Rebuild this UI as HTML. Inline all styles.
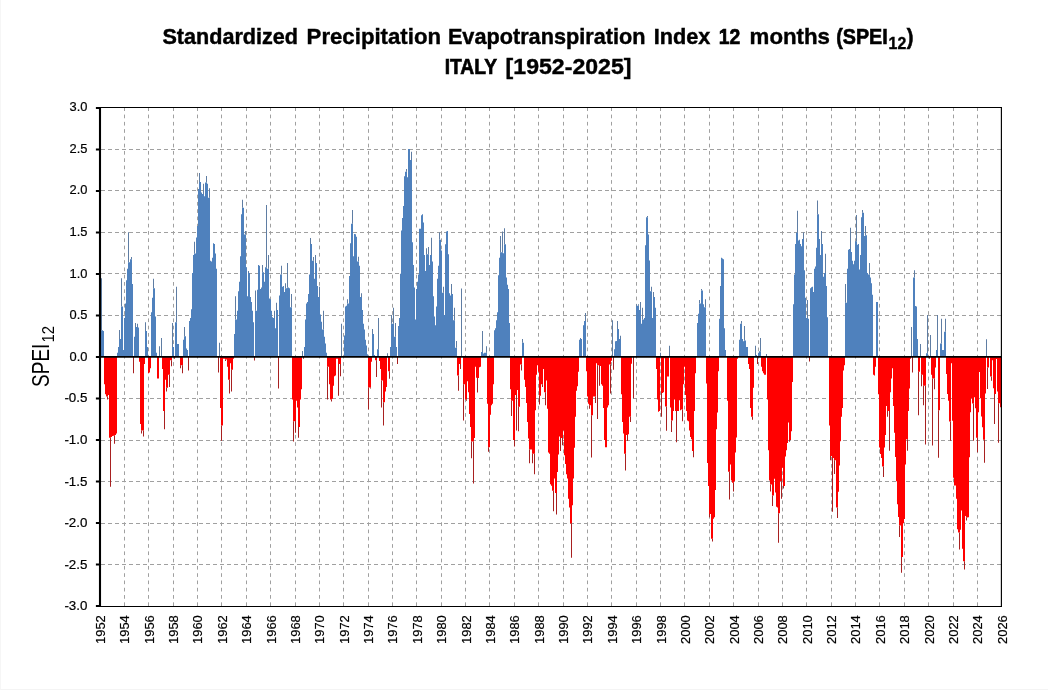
<!DOCTYPE html>
<html><head><meta charset="utf-8"><title>SPEI12 Italy</title>
<style>
html,body{margin:0;padding:0;background:#fff;}
body{width:1048px;height:690px;position:relative;overflow:hidden;font-family:"Liberation Sans",sans-serif;color:#000;}
.edge{position:absolute;left:0;top:0;width:1047px;height:689px;border-left:1px solid #f6f6f6;border-bottom:1px solid #f4f4f4}
svg text{font-family:"Liberation Sans",sans-serif}
</style></head><body>
<div class="edge"></div>
<svg width="1048" height="690" viewBox="0 0 1048 690" style="position:absolute;left:0;top:0;will-change:transform">
<path d="M124.5 107.5V606M148.5 107.5V606M173.5 107.5V606M197.5 107.5V606M221.5 107.5V606M246.5 107.5V606M270.5 107.5V606M295.5 107.5V606M319.5 107.5V606M343.5 107.5V606M368.5 107.5V606M392.5 107.5V606M416.5 107.5V606M441.5 107.5V606M465.5 107.5V606M489.5 107.5V606M514.5 107.5V606M538.5 107.5V606M563.5 107.5V606M587.5 107.5V606M611.5 107.5V606M636.5 107.5V606M660.5 107.5V606M684.5 107.5V606M709.5 107.5V606M733.5 107.5V606M758.5 107.5V606M782.5 107.5V606M806.5 107.5V606M831.5 107.5V606M855.5 107.5V606M879.5 107.5V606M904.5 107.5V606M928.5 107.5V606M953.5 107.5V606M977.5 107.5V606" stroke="#a0a0a0" stroke-width="1" stroke-dasharray="3.7 3.58" stroke-dashoffset="0.2" fill="none"/>
<path d="M101 149.5H1001M101 190.5H1001M101 232.5H1001M101 273.5H1001M101 315.5H1001M101 398.5H1001M101 440.5H1001M101 481.5H1001M101 523.5H1001M101 564.5H1001" stroke="#a0a0a0" stroke-width="1" stroke-dasharray="4 3" fill="none"/>
<path d="M101 356.9V330.34H102V356.9ZM102 356.9V330.34H103V356.9ZM103 356.9V331.07H104V356.9ZM117 356.9V352.82H118V356.9ZM118 356.9V347.02H119V356.9ZM119 356.9V339.04H120V356.9ZM120 356.9V339.04H121V356.9ZM121 356.9V306.41H122V356.9ZM122 356.9V306.41H123V356.9ZM123 356.9V349.92H124V356.9ZM124 356.9V318.01H125V356.9ZM125 356.9V303.51H126V356.9ZM126 356.9V280.3H127V356.9ZM127 356.9V268.7H128V356.9ZM128 356.9V262.17H129V356.9ZM129 356.9V262.17H130V356.9ZM130 356.9V259.27H131V356.9ZM131 356.9V259.27H132V356.9ZM132 356.9V283.93H133V356.9ZM134 356.9V336.87H135V356.9ZM135 356.9V327.01H136V356.9ZM136 356.9V327.01H137V356.9ZM137 356.9V327.01H138V356.9ZM138 356.9V327.44H139V356.9ZM145 356.9V331.07H146V356.9ZM146 356.9V331.07H147V356.9ZM147 356.9V347.02H148V356.9ZM151 356.9V312.21H152V356.9ZM152 356.9V297.71H153V356.9ZM153 356.9V288.28H154V356.9ZM154 356.9V288.28H155V356.9ZM155 356.9V316.56H156V356.9ZM156 356.9V352.82H157V356.9ZM172 356.9V347.02H173V356.9ZM173 356.9V347.02H174V356.9ZM175 356.9V322.36H176V356.9ZM176 356.9V322.36H177V356.9ZM177 356.9V344.12H178V356.9ZM178 356.9V344.12H179V356.9ZM183 356.9V339.77H184V356.9ZM184 356.9V336.14H185V356.9ZM185 356.9V336.14H186V356.9ZM186 356.9V348.47H187V356.9ZM187 356.9V349.92H188V356.9ZM189 356.9V320.91H190V356.9ZM190 356.9V318.01H191V356.9ZM191 356.9V309.31H192V356.9ZM192 356.9V273.05H193V356.9ZM193 356.9V254.92H194V356.9ZM194 356.9V253.47H195V356.9ZM195 356.9V253.47H196V356.9ZM196 356.9V237.52H197V356.9ZM197 356.9V225.91H198V356.9ZM198 356.9V188.93H199V356.9ZM199 356.9V181.88H200V356.9ZM200 356.9V181.88H201V356.9ZM201 356.9V192.56H202V356.9ZM202 356.9V194.01H203V356.9ZM203 356.9V194.01H204V356.9ZM204 356.9V196.18H205V356.9ZM205 356.9V182.4H206V356.9ZM206 356.9V182.4H207V356.9ZM207 356.9V183.85H208V356.9ZM208 356.9V197.63H209V356.9ZM209 356.9V197.63H210V356.9ZM210 356.9V260.72H211V356.9ZM211 356.9V261.45H212V356.9ZM212 356.9V257.82H213V356.9ZM213 356.9V243.32H214V356.9ZM214 356.9V244.04H215V356.9ZM215 356.9V253.47H216V356.9ZM216 356.9V268.7H217V356.9ZM234 356.9V333.97H235V356.9ZM235 356.9V319.46H236V356.9ZM236 356.9V319.46H237V356.9ZM237 356.9V310.76H238V356.9ZM238 356.9V291.18H239V356.9ZM239 356.9V281.75H240V356.9ZM240 356.9V256.37H241V356.9ZM241 356.9V214.31H242V356.9ZM242 356.9V207.78H243V356.9ZM243 356.9V207.78H244V356.9ZM244 356.9V234.62H245V356.9ZM245 356.9V234.62H246V356.9ZM246 356.9V267.25H247V356.9ZM247 356.9V296.26H248V356.9ZM248 356.9V273.05H249V356.9ZM249 356.9V273.05H250V356.9ZM250 356.9V296.98H251V356.9ZM251 356.9V302.06H252V356.9ZM252 356.9V310.76H253V356.9ZM253 356.9V322.36H254V356.9ZM255 356.9V310.76H256V356.9ZM256 356.9V310.76H257V356.9ZM257 356.9V289.73H258V356.9ZM258 356.9V265.08H259V356.9ZM259 356.9V265.8H260V356.9ZM260 356.9V289.01H261V356.9ZM261 356.9V287.56H262V356.9ZM262 356.9V272.33H263V356.9ZM263 356.9V272.33H264V356.9ZM264 356.9V281.75H265V356.9ZM265 356.9V267.25H266V356.9ZM266 356.9V267.25H267V356.9ZM267 356.9V268.7H268V356.9ZM268 356.9V268.7H269V356.9ZM269 356.9V298.43H270V356.9ZM270 356.9V299.16H271V356.9ZM271 356.9V310.76H272V356.9ZM272 356.9V317.29H273V356.9ZM273 356.9V318.01H274V356.9ZM274 356.9V318.01H275V356.9ZM275 356.9V328.17H276V356.9ZM276 356.9V310.04H277V356.9ZM277 356.9V310.04H278V356.9ZM279 356.9V295.53H280V356.9ZM280 356.9V274.5H281V356.9ZM281 356.9V274.5H282V356.9ZM282 356.9V286.83H283V356.9ZM283 356.9V286.11H284V356.9ZM284 356.9V291.91H285V356.9ZM285 356.9V288.28H286V356.9ZM286 356.9V288.28H287V356.9ZM287 356.9V287.56H288V356.9ZM288 356.9V287.56H289V356.9ZM289 356.9V288.28H290V356.9ZM290 356.9V307.14H291V356.9ZM291 356.9V307.14H292V356.9ZM304 356.9V347.02H305V356.9ZM305 356.9V319.46H306V356.9ZM306 356.9V303.51H307V356.9ZM307 356.9V302.06H308V356.9ZM308 356.9V294.08H309V356.9ZM309 356.9V274.5H310V356.9ZM310 356.9V244.04H311V356.9ZM311 356.9V244.04H312V356.9ZM312 356.9V260.72H313V356.9ZM313 356.9V260.72H314V356.9ZM314 356.9V278.85H315V356.9ZM315 356.9V262.9H316V356.9ZM316 356.9V262.9H317V356.9ZM317 356.9V286.11H318V356.9ZM318 356.9V296.98H319V356.9ZM319 356.9V296.98H320V356.9ZM320 356.9V314.39H321V356.9ZM321 356.9V321.64H322V356.9ZM322 356.9V329.62H323V356.9ZM323 356.9V329.62H324V356.9ZM324 356.9V336.87H325V356.9ZM325 356.9V343.39H326V356.9ZM326 356.9V352.82H327V356.9ZM344 356.9V335.42H345V356.9ZM345 356.9V306.41H346V356.9ZM346 356.9V305.69H347V356.9ZM347 356.9V303.51H348V356.9ZM348 356.9V303.51H349V356.9ZM349 356.9V275.95H350V356.9ZM350 356.9V243.32H351V356.9ZM351 356.9V223.74H352V356.9ZM352 356.9V223.74H353V356.9ZM353 356.9V256.37H354V356.9ZM354 356.9V233.89H355V356.9ZM355 356.9V234.33H356V356.9ZM356 356.9V236.79H357V356.9ZM357 356.9V261.45H358V356.9ZM358 356.9V261.45H359V356.9ZM359 356.9V265.8H360V356.9ZM360 356.9V296.98H361V356.9ZM361 356.9V296.98H362V356.9ZM362 356.9V310.04H363V356.9ZM363 356.9V323.81H364V356.9ZM364 356.9V329.62H365V356.9ZM365 356.9V339.77H366V356.9ZM366 356.9V345.57H367V356.9ZM367 356.9V354.27H368V356.9ZM372 356.9V333.97H373V356.9ZM373 356.9V333.97H374V356.9ZM374 356.9V355H375V356.9ZM377 356.9V349.2H378V356.9ZM378 356.9V349.2H379V356.9ZM390 356.9V347.02H391V356.9ZM391 356.9V323.81H392V356.9ZM392 356.9V323.81H393V356.9ZM393 356.9V323.81H394V356.9ZM394 356.9V336.87H395V356.9ZM395 356.9V336.87H396V356.9ZM396 356.9V347.02H397V356.9ZM398 356.9V325.99H399V356.9ZM399 356.9V318.01H400V356.9ZM400 356.9V273.78H401V356.9ZM401 356.9V230.58H402V356.9ZM402 356.9V217.9H403V356.9ZM403 356.9V206.12H404V356.9ZM404 356.9V176.23H405V356.9ZM405 356.9V171.7H406V356.9ZM406 356.9V171.7H407V356.9ZM407 356.9V177.14H408V356.9ZM408 356.9V149.06H409V356.9ZM409 356.9V149.06H410V356.9ZM410 356.9V159.93H411V356.9ZM411 356.9V159.93H412V356.9ZM412 356.9V242.36H413V356.9ZM413 356.9V264.96H414V356.9ZM414 356.9V287.56H415V356.9ZM415 356.9V319.46H416V356.9ZM416 356.9V289.01H417V356.9ZM417 356.9V281.75H418V356.9ZM418 356.9V274.5H419V356.9ZM419 356.9V228.77H420V356.9ZM420 356.9V228.77H421V356.9ZM421 356.9V215.18H422V356.9ZM422 356.9V214.28H423V356.9ZM423 356.9V222.43H424V356.9ZM424 356.9V255.04H425V356.9ZM425 356.9V270.88H426V356.9ZM426 356.9V254.13H427V356.9ZM427 356.9V254.13H428V356.9ZM428 356.9V254.13H429V356.9ZM429 356.9V265H430V356.9ZM430 356.9V255.04H431V356.9ZM431 356.9V255.04H432V356.9ZM432 356.9V261.38H433V356.9ZM433 356.9V296.26H434V356.9ZM434 356.9V316.56H435V356.9ZM435 356.9V325.26H436V356.9ZM436 356.9V306.41H437V356.9ZM437 356.9V278.85H438V356.9ZM438 356.9V265.8H439V356.9ZM439 356.9V239.64H440V356.9ZM440 356.9V239.64H441V356.9ZM441 356.9V250.51H442V356.9ZM442 356.9V292.63H443V356.9ZM443 356.9V292.63H444V356.9ZM444 356.9V315.11H445V356.9ZM445 356.9V244.17H446V356.9ZM446 356.9V231.49H447V356.9ZM447 356.9V231.12H448V356.9ZM448 356.9V254.13H449V356.9ZM449 356.9V293.36H450V356.9ZM450 356.9V295.53H451V356.9ZM451 356.9V294.08H452V356.9ZM452 356.9V294.08H453V356.9ZM453 356.9V320.19H454V356.9ZM454 356.9V320.19H455V356.9ZM455 356.9V347.74H456V356.9ZM456 356.9V347.74H457V356.9ZM481 356.9V352.1H482V356.9ZM482 356.9V352.1H483V356.9ZM483 356.9V353.55H484V356.9ZM484 356.9V352.82H485V356.9ZM485 356.9V352.82H486V356.9ZM486 356.9V352.82H487V356.9ZM494 356.9V330.34H495V356.9ZM495 356.9V328.17H496V356.9ZM496 356.9V320.19H497V356.9ZM497 356.9V312.21H498V356.9ZM498 356.9V275.23H499V356.9ZM499 356.9V257.75H500V356.9ZM500 356.9V252.32H501V356.9ZM501 356.9V252.32H502V356.9ZM502 356.9V252.32H503V356.9ZM503 356.9V253.22H504V356.9ZM504 356.9V244.17H505V356.9ZM505 356.9V244.17H506V356.9ZM506 356.9V277.4H507V356.9ZM507 356.9V284.66H508V356.9ZM508 356.9V289.01H509V356.9ZM509 356.9V323.09H510V356.9ZM522 356.9V342.67H523V356.9ZM523 356.9V342.67H524V356.9ZM579 356.9V339.77H580V356.9ZM580 356.9V339.04H581V356.9ZM581 356.9V339.04H582V356.9ZM583 356.9V325.26H584V356.9ZM584 356.9V320.91H585V356.9ZM585 356.9V320.91H586V356.9ZM614 356.9V349.2H615V356.9ZM615 356.9V341.22H616V356.9ZM616 356.9V340.93H617V356.9ZM617 356.9V328.89H618V356.9ZM618 356.9V328.89H619V356.9ZM619 356.9V339.04H620V356.9ZM620 356.9V339.04H621V356.9ZM636 356.9V305.69H637V356.9ZM637 356.9V305.69H638V356.9ZM638 356.9V305.69H639V356.9ZM639 356.9V310.04H640V356.9ZM640 356.9V310.04H641V356.9ZM641 356.9V323.81H642V356.9ZM642 356.9V319.46H643V356.9ZM643 356.9V319.46H644V356.9ZM644 356.9V318.01H645V356.9ZM645 356.9V245.15H646V356.9ZM646 356.9V217.25H647V356.9ZM647 356.9V217.25H648V356.9ZM648 356.9V234.5H649V356.9ZM649 356.9V260.38H650V356.9ZM650 356.9V291.18H651V356.9ZM651 356.9V291.18H652V356.9ZM652 356.9V318.01H653V356.9ZM653 356.9V296.98H654V356.9ZM654 356.9V296.98H655V356.9ZM655 356.9V307.86H656V356.9ZM697 356.9V323.09H698V356.9ZM698 356.9V313.66H699V356.9ZM699 356.9V303.51H700V356.9ZM700 356.9V303.51H701V356.9ZM701 356.9V290.46H702V356.9ZM702 356.9V290.46H703V356.9ZM703 356.9V304.23H704V356.9ZM704 356.9V307.14H705V356.9ZM705 356.9V307.14H706V356.9ZM719 356.9V318.74H720V356.9ZM720 356.9V286.11H721V356.9ZM721 356.9V257.82H722V356.9ZM722 356.9V258.55H723V356.9ZM723 356.9V259.27H724V356.9ZM724 356.9V328.17H725V356.9ZM725 356.9V349.92H726V356.9ZM739 356.9V339.77H740V356.9ZM740 356.9V323.81H741V356.9ZM741 356.9V323.81H742V356.9ZM742 356.9V339.04H743V356.9ZM743 356.9V341.22H744V356.9ZM744 356.9V340.49H745V356.9ZM745 356.9V340.49H746V356.9ZM746 356.9V347.02H747V356.9ZM747 356.9V347.02H748V356.9ZM755 356.9V355H756V356.9ZM756 356.9V355H757V356.9ZM758 356.9V352.82H759V356.9ZM759 356.9V351.37H760V356.9ZM760 356.9V351.37H761V356.9ZM793 356.9V304.23H794V356.9ZM794 356.9V274.5H795V356.9ZM795 356.9V244.04H796V356.9ZM796 356.9V232.44H797V356.9ZM797 356.9V232.44H798V356.9ZM798 356.9V240.42H799V356.9ZM799 356.9V239.69H800V356.9ZM800 356.9V244.04H801V356.9ZM801 356.9V246.22H802V356.9ZM802 356.9V238.97H803V356.9ZM803 356.9V238.97H804V356.9ZM804 356.9V270.15H805V356.9ZM805 356.9V297.71H806V356.9ZM806 356.9V318.01H807V356.9ZM807 356.9V318.01H808V356.9ZM808 356.9V318.74H809V356.9ZM810 356.9V288.28H811V356.9ZM811 356.9V287.27H812V356.9ZM812 356.9V286.83H813V356.9ZM813 356.9V291.91H814V356.9ZM814 356.9V268.7H815V356.9ZM815 356.9V266.53H816V356.9ZM816 356.9V247.67H817V356.9ZM817 356.9V214.31H818V356.9ZM818 356.9V214.31H819V356.9ZM819 356.9V238.97H820V356.9ZM820 356.9V254.92H821V356.9ZM821 356.9V244.04H822V356.9ZM822 356.9V244.04H823V356.9ZM823 356.9V276.68H824V356.9ZM824 356.9V273.05H825V356.9ZM825 356.9V273.05H826V356.9ZM826 356.9V286.11H827V356.9ZM827 356.9V317.29H828V356.9ZM845 356.9V302.78H846V356.9ZM846 356.9V302.78H847V356.9ZM847 356.9V268.7H848V356.9ZM848 356.9V249.84H849V356.9ZM849 356.9V249.12H850V356.9ZM850 356.9V249.12H851V356.9ZM851 356.9V252.02H852V356.9ZM852 356.9V260.72H853V356.9ZM853 356.9V264.35H854V356.9ZM854 356.9V260.72H855V356.9ZM855 356.9V241.14H856V356.9ZM856 356.9V241.14H857V356.9ZM857 356.9V244.77H858V356.9ZM858 356.9V244.04H859V356.9ZM859 356.9V269.43H860V356.9ZM860 356.9V254.92H861V356.9ZM861 356.9V217.21H862V356.9ZM862 356.9V212.86H863V356.9ZM863 356.9V212.86H864V356.9ZM864 356.9V236.07H865V356.9ZM865 356.9V235.34H866V356.9ZM866 356.9V235.34H867V356.9ZM867 356.9V273.05H868V356.9ZM868 356.9V274.5H869V356.9ZM869 356.9V274.5H870V356.9ZM870 356.9V277.4H871V356.9ZM871 356.9V283.21H872V356.9ZM872 356.9V294.81H873V356.9ZM876 356.9V302.06H877V356.9ZM877 356.9V302.06H878V356.9ZM913 356.9V277.4H914V356.9ZM914 356.9V277.4H915V356.9ZM915 356.9V306.12H916V356.9ZM916 356.9V306.41H917V356.9ZM917 356.9V339.04H918V356.9ZM926 356.9V353.27H927V356.9ZM927 356.9V353.27H928V356.9ZM936 356.9V349.92H937V356.9ZM937 356.9V349.92H938V356.9ZM940 356.9V343.39H941V356.9ZM941 356.9V343.39H942V356.9ZM942 356.9V349.92H943V356.9ZM943 356.9V349.92H944V356.9ZM944 356.9V331.79H945V356.9ZM945 356.9V331.79H946V356.9Z" fill="#4f81bd"/>
<path d="M101 330.34V278.13H102V330.34ZM119 339.04V330.05H120V339.04ZM121 306.41V278.13H122V306.41ZM128 262.17V232.15H129V262.17ZM131 259.27V257.1H132V259.27ZM135 327.01V323.09H136V327.01ZM137 327.01V323.81H138V327.01ZM145 331.07V322.36H146V331.07ZM153 288.28V278.85H154V288.28ZM159 356.9V346.29H160V356.9ZM161 356.9V338.03H162V356.9ZM172 347.02V323.09H173V347.02ZM176 322.36V286.83H177V322.36ZM184 336.14V327.01H185V336.14ZM194 253.47V241.87H195V253.47ZM199 181.88V172.98H200V181.88ZM203 194.01V183.85H204V194.01ZM206 182.4V175.88H207V182.4ZM209 197.63V188.21H210V197.63ZM219 356.9V342.67H220V356.9ZM235 319.46V296.26H236V319.46ZM242 207.78V199.81H243V207.78ZM245 234.62V230.99H246V234.62ZM248 273.05V270.88H249V273.05ZM255 310.76V290.46H256V310.76ZM262 272.33V265.08H263V272.33ZM266 267.25V204.88H267V267.25ZM268 268.7V254.92H269V268.7ZM274 318.01V310.76H275V318.01ZM276 310.04V302.78H277V310.04ZM281 274.5V265.8H282V274.5ZM285 288.28V283.21H286V288.28ZM287 287.56V262.9H288V287.56ZM291 307.14V294.08H292V307.14ZM302 356.9V351.08H303V356.9ZM310 244.04V237.95H311V244.04ZM313 260.72V257.1H314V260.72ZM315 262.9V254.92H316V262.9ZM319 296.98V286.83H320V296.98ZM323 329.62V310.76H324V329.62ZM341 356.9V323.81H342V356.9ZM347 303.51V299.16H348V303.51ZM352 223.74V209.96H353V223.74ZM358 261.45V256.66H359V261.45ZM361 296.98V293.36H362V296.98ZM372 333.97V328.89H373V333.97ZM378 349.2V318.01H379V349.2ZM387 356.9V353.27H388V356.9ZM391 323.81V315.11H392V323.81ZM393 323.81V307.86H394V323.81ZM395 336.87V323.09H396V336.87ZM406 171.7V168.99H407V171.7ZM411 159.93V151.78H412V159.93ZM426 254.13V248.15H427V254.13ZM428 254.13V246.88H429V254.13ZM431 255.04V237.83H432V255.04ZM439 239.64V232.39H440V239.64ZM443 292.63V286.83H444V292.63ZM451 294.08V283.93H452V294.08ZM454 320.19V307.86H455V320.19ZM456 347.74V340.93H457V347.74ZM461 356.9V288.38H462V356.9ZM482 352.1V331.07H483V352.1ZM486 352.82V346.29H487V352.82ZM500 252.32V236.01H501V252.32ZM502 252.32V231.49H503V252.32ZM504 244.17V228.22H505V244.17ZM522 342.67V339.04H523V342.67ZM580 339.04V338.03H581V339.04ZM585 320.91V312.94H586V320.91ZM612 356.9V320.19H613V356.9ZM617 328.89V320.91H618V328.89ZM620 339.04V335.71H621V339.04ZM636 305.69V304.23H637V305.69ZM638 305.69V304.23H639V305.69ZM640 310.04V302.06H641V310.04ZM642 319.46V307.86H643V319.46ZM647 217.25V216.03H648V217.25ZM651 291.18V286.83H652V291.18ZM653 296.98V291.91H654V296.98ZM660 356.9V352.86H661V356.9ZM669 356.9V345.86H670V356.9ZM699 303.51V299.88H700V303.51ZM701 290.46V289.01H702V290.46ZM705 307.14V299.16H706V307.14ZM741 323.81V320.91H742V323.81ZM744 340.49V325.99H745V340.49ZM755 355V345.86H756V355ZM760 351.37V338.03H761V351.37ZM766 356.9V353.98H767V356.9ZM797 232.44V210.69H798V232.44ZM803 238.97V232.44H804V238.97ZM807 318.01V299.88H808V318.01ZM817 214.31V200.53H818V214.31ZM821 244.04V230.99H822V244.04ZM825 273.05V253.76H826V273.05ZM845 302.78V283.93H846V302.78ZM850 249.12V227.8H851V249.12ZM856 241.14V215.04H857V241.14ZM862 212.86V209.96H863V212.86ZM865 235.34V225.91H866V235.34ZM869 274.5V262.9H870V274.5ZM911 356.9V327.01H912V356.9ZM914 277.4V270.15H915V277.4ZM920 356.9V344.12H921V356.9ZM927 353.27V315.11H928V353.27ZM930 356.9V334.98H931V356.9ZM937 349.92V315.11H938V349.92ZM941 343.39V318.74H942V343.39ZM945 331.79V318.74H946V331.79ZM986 356.9V339.13H987V356.9Z" fill="#5f7da3"/>
<path d="M104 356.9V384.18H105V356.9ZM105 356.9V394.33H106V356.9ZM106 356.9V396.51H107V356.9ZM107 356.9V396.51H108V356.9ZM108 356.9V395.06H109V356.9ZM109 356.9V437.84H110V356.9ZM110 356.9V437.84H111V356.9ZM111 356.9V437.12H112V356.9ZM112 356.9V435.96H113V356.9ZM113 356.9V435.67H114V356.9ZM114 356.9V435.67H115V356.9ZM115 356.9V434.94H116V356.9ZM116 356.9V433.49H117V356.9ZM139 356.9V361.7H140V356.9ZM140 356.9V424.07H141V356.9ZM141 356.9V430.59H142V356.9ZM142 356.9V430.59H143V356.9ZM143 356.9V430.59H144V356.9ZM144 356.9V363.88H145V356.9ZM148 356.9V373.3H149V356.9ZM149 356.9V372.58H150V356.9ZM150 356.9V368.23H151V356.9ZM157 356.9V378.38H158V356.9ZM158 356.9V378.38H159V356.9ZM162 356.9V368.95H163V356.9ZM163 356.9V411.01H164V356.9ZM164 356.9V411.01H165V356.9ZM165 356.9V379.83H166V356.9ZM166 356.9V387.81H167V356.9ZM167 356.9V387.81H168V356.9ZM168 356.9V374.75H169V356.9ZM169 356.9V374.75H170V356.9ZM170 356.9V360.25H171V356.9ZM171 356.9V360.25H172V356.9ZM180 356.9V365.33H181V356.9ZM181 356.9V365.33H182V356.9ZM182 356.9V365.33H183V356.9ZM220 356.9V408.11H221V356.9ZM221 356.9V425.52H222V356.9ZM222 356.9V425.52H223V356.9ZM223 356.9V358.8H224V356.9ZM224 356.9V358.8H225V356.9ZM225 356.9V359.53H226V356.9ZM226 356.9V359.53H227V356.9ZM227 356.9V366.78H228V356.9ZM228 356.9V379.83H229V356.9ZM229 356.9V379.83H230V356.9ZM230 356.9V363.15H231V356.9ZM231 356.9V369.68H232V356.9ZM232 356.9V369.68H233V356.9ZM233 356.9V358.8H234V356.9ZM292 356.9V399.41H293V356.9ZM293 356.9V421.17H294V356.9ZM294 356.9V421.17H295V356.9ZM295 356.9V421.17H296V356.9ZM296 356.9V400.86H297V356.9ZM297 356.9V407.39H298V356.9ZM298 356.9V426.97H299V356.9ZM299 356.9V426.97H300V356.9ZM300 356.9V399.41H301V356.9ZM301 356.9V389.26H302V356.9ZM327 356.9V366.78H328V356.9ZM328 356.9V366.78H329V356.9ZM329 356.9V384.18H330V356.9ZM330 356.9V399.41H331V356.9ZM331 356.9V399.41H332V356.9ZM332 356.9V398.69H333V356.9ZM333 356.9V385.63H334V356.9ZM334 356.9V376.21H335V356.9ZM335 356.9V375.48H336V356.9ZM336 356.9V358.8H337V356.9ZM337 356.9V358.8H338V356.9ZM338 356.9V363.88H339V356.9ZM339 356.9V363.88H340V356.9ZM340 356.9V363.88H341V356.9ZM368 356.9V387.52H369V356.9ZM369 356.9V387.52H370V356.9ZM370 356.9V387.52H371V356.9ZM371 356.9V361.7H372V356.9ZM375 356.9V360.25H376V356.9ZM376 356.9V360.25H377V356.9ZM379 356.9V360.98H380V356.9ZM380 356.9V368.95H381V356.9ZM381 356.9V380.56H382V356.9ZM382 356.9V380.56H383V356.9ZM383 356.9V402.31H384V356.9ZM384 356.9V402.31H385V356.9ZM385 356.9V391.43H386V356.9ZM386 356.9V387.08H387V356.9ZM388 356.9V371.13H389V356.9ZM389 356.9V371.13H390V356.9ZM457 356.9V375.48H458V356.9ZM458 356.9V375.48H459V356.9ZM459 356.9V363.88H460V356.9ZM460 356.9V363.88H461V356.9ZM463 356.9V384.18H464V356.9ZM464 356.9V384.18H465V356.9ZM465 356.9V399.41H466V356.9ZM466 356.9V399.41H467V356.9ZM467 356.9V381.28H468V356.9ZM468 356.9V392.16H469V356.9ZM469 356.9V413.91H470V356.9ZM470 356.9V426.97H471V356.9ZM471 356.9V441.53H472V356.9ZM472 356.9V441.53H473V356.9ZM473 356.9V441.53H474V356.9ZM474 356.9V437.9H475V356.9ZM475 356.9V366.78H476V356.9ZM476 356.9V377.66H477V356.9ZM477 356.9V377.95H478V356.9ZM478 356.9V377.95H479V356.9ZM479 356.9V367.21H480V356.9ZM480 356.9V366.78H481V356.9ZM487 356.9V403.76H488V356.9ZM488 356.9V447.33H489V356.9ZM489 356.9V447.33H490V356.9ZM490 356.9V414.64H491V356.9ZM491 356.9V405.21H492V356.9ZM492 356.9V403.76H493V356.9ZM493 356.9V384.18H494V356.9ZM510 356.9V389.26H511V356.9ZM511 356.9V400.86H512V356.9ZM512 356.9V400.86H513V356.9ZM513 356.9V440.02H514V356.9ZM514 356.9V440.02H515V356.9ZM515 356.9V395.06H516V356.9ZM516 356.9V395.06H517V356.9ZM517 356.9V389.98H518V356.9ZM518 356.9V406.66H519V356.9ZM519 356.9V406.66H520V356.9ZM520 356.9V364.6H521V356.9ZM521 356.9V364.6H522V356.9ZM524 356.9V379.83H525V356.9ZM525 356.9V387.08H526V356.9ZM526 356.9V403.04H527V356.9ZM527 356.9V421.89H528V356.9ZM528 356.9V438.57H529V356.9ZM529 356.9V449.5H530V356.9ZM530 356.9V449.5H531V356.9ZM531 356.9V449.5H532V356.9ZM532 356.9V453.85H533V356.9ZM533 356.9V453.85H534V356.9ZM534 356.9V453.85H535V356.9ZM535 356.9V410.29H536V356.9ZM536 356.9V374.75H537V356.9ZM537 356.9V365.33H538V356.9ZM538 356.9V371.85H539V356.9ZM539 356.9V395.78H540V356.9ZM540 356.9V395.78H541V356.9ZM541 356.9V384.18H542V356.9ZM542 356.9V384.18H543V356.9ZM543 356.9V368.95H544V356.9ZM544 356.9V392.16H545V356.9ZM545 356.9V392.16H546V356.9ZM546 356.9V380.56H547V356.9ZM547 356.9V408.84H548V356.9ZM548 356.9V452.4H549V356.9ZM549 356.9V453.85H550V356.9ZM550 356.9V484.31H551V356.9ZM551 356.9V485.76H552V356.9ZM552 356.9V490.84H553V356.9ZM553 356.9V490.84H554V356.9ZM554 356.9V478.51H555V356.9ZM555 356.9V493.01H556V356.9ZM556 356.9V493.01H557V356.9ZM557 356.9V471.98H558V356.9ZM558 356.9V454.58H559V356.9ZM559 356.9V436.45H560V356.9ZM560 356.9V437.9H561V356.9ZM561 356.9V437.9H562V356.9ZM562 356.9V437.9H563V356.9ZM563 356.9V430.59H564V356.9ZM564 356.9V455.3H565V356.9ZM565 356.9V464.01H566V356.9ZM566 356.9V474.16H567V356.9ZM567 356.9V478.51H568V356.9ZM568 356.9V498.81H569V356.9ZM569 356.9V507.52H570V356.9ZM570 356.9V523.47H571V356.9ZM571 356.9V523.47H572V356.9ZM572 356.9V505.34H573V356.9ZM573 356.9V478.51H574V356.9ZM574 356.9V447.66H575V356.9ZM575 356.9V416.81H576V356.9ZM576 356.9V390.71H577V356.9ZM577 356.9V386.36H578V356.9ZM578 356.9V371.85H579V356.9ZM586 356.9V371.13H587V356.9ZM587 356.9V396.51H588V356.9ZM588 356.9V403.76H589V356.9ZM589 356.9V405.21H590V356.9ZM590 356.9V405.21H591V356.9ZM591 356.9V415.36H592V356.9ZM592 356.9V415.36H593V356.9ZM593 356.9V396.51H594V356.9ZM594 356.9V396.51H595V356.9ZM595 356.9V396.51H596V356.9ZM596 356.9V363.15H597V356.9ZM597 356.9V365.33H598V356.9ZM598 356.9V365.33H599V356.9ZM599 356.9V366.05H600V356.9ZM600 356.9V366.05H601V356.9ZM601 356.9V384.18H602V356.9ZM602 356.9V385.63H603V356.9ZM603 356.9V408.11H604V356.9ZM604 356.9V440.02H605V356.9ZM605 356.9V447.27H606V356.9ZM606 356.9V447.27H607V356.9ZM607 356.9V407.39H608V356.9ZM608 356.9V405.21H609V356.9ZM609 356.9V364.6H610V356.9ZM610 356.9V364.6H611V356.9ZM611 356.9V360.76H612V356.9ZM621 356.9V394.33H622V356.9ZM622 356.9V421.89H623V356.9ZM623 356.9V433.49H624V356.9ZM624 356.9V453.85H625V356.9ZM625 356.9V453.85H626V356.9ZM626 356.9V434.94H627V356.9ZM627 356.9V434.94H628V356.9ZM628 356.9V434.22H629V356.9ZM629 356.9V416.81H630V356.9ZM630 356.9V416.81H631V356.9ZM631 356.9V363.67H632V356.9ZM656 356.9V368.95H657V356.9ZM657 356.9V399.41H658V356.9ZM658 356.9V411.74H659V356.9ZM659 356.9V411.01H660V356.9ZM661 356.9V392.88H662V356.9ZM662 356.9V392.88H663V356.9ZM663 356.9V392.16H664V356.9ZM664 356.9V358.26H665V356.9ZM665 356.9V406.52H666V356.9ZM666 356.9V406.52H667V356.9ZM667 356.9V376.57H668V356.9ZM668 356.9V376.57H669V356.9ZM670 356.9V407.39H671V356.9ZM671 356.9V420.44H672V356.9ZM672 356.9V420.44H673V356.9ZM673 356.9V411.01H674V356.9ZM674 356.9V399.41H675V356.9ZM675 356.9V411.01H676V356.9ZM676 356.9V411.01H677V356.9ZM677 356.9V411.01H678V356.9ZM678 356.9V411.01H679V356.9ZM679 356.9V400.14H680V356.9ZM680 356.9V410.29H681V356.9ZM681 356.9V409.56H682V356.9ZM682 356.9V409.56H683V356.9ZM683 356.9V384.18H684V356.9ZM684 356.9V366.78H685V356.9ZM685 356.9V395.06H686V356.9ZM686 356.9V411.01H687V356.9ZM687 356.9V420.44H688V356.9ZM688 356.9V421.17H689V356.9ZM689 356.9V430.59H690V356.9ZM690 356.9V437.12H691V356.9ZM691 356.9V439.29H692V356.9ZM692 356.9V450.95H693V356.9ZM693 356.9V450.95H694V356.9ZM694 356.9V411.01H695V356.9ZM695 356.9V373.3H696V356.9ZM706 356.9V383.46H707V356.9ZM707 356.9V462.91H708V356.9ZM708 356.9V486.04H709V356.9ZM709 356.9V513.95H710V356.9ZM710 356.9V513.95H711V356.9ZM711 356.9V538.67H712V356.9ZM712 356.9V538.67H713V356.9ZM713 356.9V518.73H714V356.9ZM714 356.9V517.14H715V356.9ZM715 356.9V490.02H716V356.9ZM716 356.9V429.14H717V356.9ZM717 356.9V412.46H718V356.9ZM718 356.9V371.13H719V356.9ZM727 356.9V400.86H728V356.9ZM728 356.9V471.68H729V356.9ZM729 356.9V471.68H730V356.9ZM730 356.9V464.51H731V356.9ZM731 356.9V480.45H732V356.9ZM732 356.9V482.85H733V356.9ZM733 356.9V482.85H734V356.9ZM734 356.9V481.25H735V356.9ZM735 356.9V452.54H736V356.9ZM736 356.9V437.39H737V356.9ZM737 356.9V358.8H738V356.9ZM748 356.9V363.88H749V356.9ZM749 356.9V368.95H750V356.9ZM750 356.9V408.11H751V356.9ZM751 356.9V416.81H752V356.9ZM752 356.9V416.81H753V356.9ZM753 356.9V387.81H754V356.9ZM761 356.9V366.78H762V356.9ZM762 356.9V371.13H763V356.9ZM763 356.9V373.3H764V356.9ZM764 356.9V374.75H765V356.9ZM765 356.9V374.75H766V356.9ZM767 356.9V399.41H768V356.9ZM768 356.9V450.15H769V356.9ZM769 356.9V480.45H770V356.9ZM770 356.9V484.44H771V356.9ZM771 356.9V484.44H772V356.9ZM772 356.9V495.61H773V356.9ZM773 356.9V495.61H774V356.9ZM774 356.9V478.86H775V356.9ZM775 356.9V492.42H776V356.9ZM776 356.9V506.77H777V356.9ZM777 356.9V507.57H778V356.9ZM778 356.9V513.15H779V356.9ZM779 356.9V513.15H780V356.9ZM780 356.9V481.25H781V356.9ZM781 356.9V481.25H782V356.9ZM782 356.9V467.7H783V356.9ZM783 356.9V486.04H784V356.9ZM784 356.9V486.04H785V356.9ZM785 356.9V456.53H786V356.9ZM786 356.9V450.15H787V356.9ZM787 356.9V442.97H788V356.9ZM788 356.9V422.62H789V356.9ZM789 356.9V440.02H790V356.9ZM790 356.9V440.02H791V356.9ZM791 356.9V431.32H792V356.9ZM792 356.9V382.01H793V356.9ZM829 356.9V425.52H830V356.9ZM830 356.9V456.02H831V356.9ZM831 356.9V456.02H832V356.9ZM832 356.9V458.12H833V356.9ZM833 356.9V458.12H834V356.9ZM834 356.9V460.23H835V356.9ZM835 356.9V460.23H836V356.9ZM836 356.9V507.52H837V356.9ZM837 356.9V507.52H838V356.9ZM838 356.9V491.76H839V356.9ZM839 356.9V465.48H840V356.9ZM840 356.9V441.15H841V356.9ZM841 356.9V416.81H842V356.9ZM842 356.9V408.11H843V356.9ZM843 356.9V370.4H844V356.9ZM844 356.9V365.33H845V356.9ZM873 356.9V374.75H874V356.9ZM874 356.9V375.48H875V356.9ZM875 356.9V366.78H876V356.9ZM878 356.9V394.33H879V356.9ZM879 356.9V447.61H880V356.9ZM880 356.9V453.92H881V356.9ZM881 356.9V458.12H882V356.9ZM882 356.9V466.53H883V356.9ZM883 356.9V466.53H884V356.9ZM884 356.9V447.61H885V356.9ZM885 356.9V434.94H886V356.9ZM886 356.9V405.94H887V356.9ZM887 356.9V411.01H888V356.9ZM888 356.9V411.01H889V356.9ZM889 356.9V411.01H890V356.9ZM890 356.9V392.16H891V356.9ZM891 356.9V378.38H892V356.9ZM892 356.9V368.23H893V356.9ZM893 356.9V405.94H894V356.9ZM894 356.9V432.77H895V356.9ZM895 356.9V457.01H896V356.9ZM896 356.9V481.25H897V356.9ZM897 356.9V504.37H898V356.9ZM898 356.9V516.98H899V356.9ZM899 356.9V525.39H900V356.9ZM900 356.9V525.39H901V356.9ZM901 356.9V556.93H902V356.9ZM902 356.9V556.93H903V356.9ZM903 356.9V523.29H904V356.9ZM904 356.9V519.09H905V356.9ZM905 356.9V464.43H906V356.9ZM906 356.9V439.2H907V356.9ZM907 356.9V439.2H908V356.9ZM908 356.9V411.01H909V356.9ZM909 356.9V388.53H910V356.9ZM910 356.9V358.8H911V356.9ZM918 356.9V371.85H919V356.9ZM919 356.9V371.85H920V356.9ZM921 356.9V374.75H922V356.9ZM922 356.9V374.75H923V356.9ZM923 356.9V385.63H924V356.9ZM924 356.9V385.63H925V356.9ZM925 356.9V385.63H926V356.9ZM931 356.9V374.75H932V356.9ZM932 356.9V378.38H933V356.9ZM933 356.9V378.38H934V356.9ZM934 356.9V378.38H935V356.9ZM935 356.9V367.5H936V356.9ZM938 356.9V410.29H939V356.9ZM939 356.9V410.29H940V356.9ZM946 356.9V374.07H947V356.9ZM947 356.9V394.04H948V356.9ZM948 356.9V400.7H949V356.9ZM949 356.9V421.5H950V356.9ZM950 356.9V421.5H951V356.9ZM951 356.9V363.26H952V356.9ZM952 356.9V420.66H953V356.9ZM953 356.9V477.66H954V356.9ZM954 356.9V485.56H955V356.9ZM955 356.9V485.56H956V356.9ZM956 356.9V498.87H957V356.9ZM957 356.9V529.32H958V356.9ZM958 356.9V532.57H959V356.9ZM959 356.9V532.57H960V356.9ZM960 356.9V529.66H961V356.9ZM961 356.9V510.52H962V356.9ZM962 356.9V548.79H963V356.9ZM963 356.9V561.27H964V356.9ZM964 356.9V561.27H965V356.9ZM965 356.9V516.09H966V356.9ZM966 356.9V517.51H967V356.9ZM967 356.9V517.51H968V356.9ZM968 356.9V517.18H969V356.9ZM969 356.9V457.27H970V356.9ZM970 356.9V412.34H971V356.9ZM971 356.9V398.2H972V356.9ZM972 356.9V403.61H973V356.9ZM973 356.9V403.61H974V356.9ZM974 356.9V397.37H975V356.9ZM975 356.9V408.18H976V356.9ZM976 356.9V437.72H977V356.9ZM977 356.9V437.72H978V356.9ZM978 356.9V412.34H979V356.9ZM979 356.9V371.99H980V356.9ZM980 356.9V398.2H981V356.9ZM981 356.9V416.5H982V356.9ZM982 356.9V427.32H983V356.9ZM983 356.9V439.8H984V356.9ZM984 356.9V439.8H985V356.9ZM985 356.9V393.62H986V356.9ZM987 356.9V367.42H988V356.9ZM988 356.9V367.42H989V356.9ZM990 356.9V376.57H991V356.9ZM991 356.9V376.57H992V356.9ZM992 356.9V360.34H993V356.9ZM993 356.9V388.22H994V356.9ZM994 356.9V394.04H995V356.9ZM995 356.9V394.04H996V356.9ZM996 356.9V359.1H997V356.9ZM997 356.9V391.54H998V356.9ZM998 356.9V403.19H999V356.9ZM999 356.9V403.19H1000V356.9ZM1000 356.9V407.35H1001V356.9ZM1001 356.9V407.35H1002V356.9Z" fill="#ff0000"/>
<path d="M107 396.51V399.41H108V396.51ZM110 437.84V486.82H111V437.84ZM114 435.67V443.65H115V435.67ZM133 356.9V373.3H134V356.9ZM141 430.59V433.49H142V430.59ZM143 430.59V436.39H144V430.59ZM164 411.01V429.14H165V411.01ZM166 387.81V391.43H167V387.81ZM169 374.75V387.08H170V374.75ZM171 360.25V366.34H172V360.25ZM174 356.9V358.8H175V356.9ZM180 365.33V368.23H181V365.33ZM182 365.33V373.3H183V365.33ZM188 356.9V370.4H189V356.9ZM218 356.9V372.58H219V356.9ZM221 425.52V440.74H222V425.52ZM225 359.53V360.98H226V359.53ZM229 379.83V393.61H230V379.83ZM231 369.68V391.43H232V369.68ZM254 356.9V360.54H255V356.9ZM278 356.9V388.53H279V356.9ZM293 421.17V441.47H294V421.17ZM295 421.17V432.77H296V421.17ZM298 426.97V437.84H299V426.97ZM303 356.9V358.8H304V356.9ZM327 366.78V399.41H328V366.78ZM331 399.41V401.59H332V399.41ZM338 363.88V395.78H339V363.88ZM340 363.88V376.21H341V363.88ZM368 387.52V409.56H369V387.52ZM370 387.52V388.53H371V387.52ZM376 360.25V376.93H377V360.25ZM381 380.56V407.39H382V380.56ZM383 402.31V425.52H384V402.31ZM389 371.13V378.82H390V371.13ZM397 356.9V363.88H398V356.9ZM458 375.48V390.71H459V375.48ZM460 363.88V368.95H461V363.88ZM463 384.18V420.44H464V384.18ZM466 399.41V400.86H467V399.41ZM471 441.53V458.21H472V441.53ZM473 441.53V483.59H474V441.53ZM477 377.95V392.45H478V377.95ZM488 447.33V451.68H489V447.33ZM511 400.86V416.09H512V400.86ZM514 440.02V446.6H515V440.02ZM516 395.06V430.59H517V395.06ZM518 406.66V431.32H519V406.66ZM521 364.6V370.4H522V364.6ZM529 449.5V463.28H530V449.5ZM532 453.85V463.28H533V453.85ZM534 453.85V474.16H535V453.85ZM539 395.78V404.49H540V395.78ZM542 384.18V387.08H543V384.18ZM545 392.16V405.21H546V392.16ZM553 490.84V511.14H554V490.84ZM556 493.01V514.48H557V493.01ZM560 437.9V450.95H561V437.9ZM562 437.9V445.15H563V437.9ZM571 523.47V557.84H572V523.47ZM589 405.21V408.84H590V405.21ZM591 415.36V457.48H592V415.36ZM595 396.51V403.04H596V396.51ZM597 365.33V418.99H598V365.33ZM599 366.05V385.63H600V366.05ZM610 364.6V393.61H611V364.6ZM613 356.9V369.66H614V356.9ZM625 453.85V470.53H626V453.85ZM627 434.94V441.03H628V434.94ZM630 416.81V421.89H631V416.81ZM633 356.9V398.2H634V356.9ZM661 392.88V416.81H662V392.88ZM666 406.52V430.65H667V406.52ZM671 420.44V432.04H672V420.44ZM676 411.01V442.18H677V411.01ZM682 409.56V421.17H683V409.56ZM693 450.95V457.33H694V450.95ZM709 513.95V517.14H710V513.95ZM712 538.67V541.54H713V538.67ZM729 471.68V499.59H730V471.68ZM733 482.85V491.62H734V482.85ZM752 416.81V419.72H753V416.81ZM757 356.9V363.88H758V356.9ZM770 484.44V491.62H771V484.44ZM772 495.61V505.97H773V495.61ZM778 513.15V542.66H779V513.15ZM781 481.25V498.8H782V481.25ZM783 486.04V488.43H784V486.04ZM789 440.02V441.76H790V440.02ZM809 356.9V361.41H810V356.9ZM830 456.02V460.23H831V456.02ZM832 458.12V511.73H833V458.12ZM834 460.23V473.89H835V460.23ZM837 507.52V518.04H838V507.52ZM883 466.53V477.04H884V466.53ZM887 411.01V416.81H888V411.01ZM889 411.01V450.77H890V411.01ZM899 525.39V536.96H900V525.39ZM901 556.93V572.69H902V556.93ZM907 439.2V450.77H908V439.2ZM912 356.9V372.58H913V356.9ZM918 371.85V415.36H919V371.85ZM921 374.75V386.36H922V374.75ZM923 385.63V405.21H924V385.63ZM925 385.63V444.46H926V385.63ZM929 356.9V358.8H930V356.9ZM932 378.38V445.51H933V378.38ZM934 378.38V389.26H935V378.38ZM938 410.29V457.7H939V410.29ZM950 421.5V440.63H951V421.5ZM959 532.57V549.62H960V532.57ZM964 561.27V569.59H965V561.27ZM966 517.51V520.5H967V517.51ZM973 403.61V440.63H974V403.61ZM977 437.72V452.28H978V437.72ZM984 439.8V462.68H985V439.8ZM987 367.42V389.05H988V367.42ZM991 376.57V380.73H992V376.57ZM994 394.04V423.99H995V394.04ZM998 403.19V442.8H999V403.19Z" fill="#a82020"/>
<path d="M100 107.5H1001.4V606.45H100" stroke="#000" stroke-width="1.15" fill="none"/>
<path d="M100 106.9V607" stroke="#000" stroke-width="2.1" fill="none"/>
<path d="M100 356.88H1001.4" stroke="#000" stroke-width="1.8" fill="none"/>
<path d="M95.9 108H100M95.9 149.5H100M95.9 191H100M95.9 232.5H100M95.9 274H100M95.9 315.5H100M95.9 356.88H100M95.9 398.5H100M95.9 440H100M95.9 481.5H100M95.9 523H100M95.9 564.5H100M95.9 606H100" stroke="#000" stroke-width="2" fill="none"/>
<g font-family="Liberation Sans, sans-serif" fill="#000"><text x="69.5" y="111.3" font-size="12.4" stroke="#000" stroke-width="0.2" textLength="17.9" lengthAdjust="spacingAndGlyphs">3.0</text><text x="69.5" y="152.88" font-size="12.4" stroke="#000" stroke-width="0.2" textLength="17.9" lengthAdjust="spacingAndGlyphs">2.5</text><text x="69.5" y="194.47" font-size="12.4" stroke="#000" stroke-width="0.2" textLength="17.9" lengthAdjust="spacingAndGlyphs">2.0</text><text x="69.5" y="236.05" font-size="12.4" stroke="#000" stroke-width="0.2" textLength="17.9" lengthAdjust="spacingAndGlyphs">1.5</text><text x="69.5" y="277.63" font-size="12.4" stroke="#000" stroke-width="0.2" textLength="17.9" lengthAdjust="spacingAndGlyphs">1.0</text><text x="69.5" y="319.22" font-size="12.4" stroke="#000" stroke-width="0.2" textLength="17.9" lengthAdjust="spacingAndGlyphs">0.5</text><text x="69.5" y="360.8" font-size="12.4" stroke="#000" stroke-width="0.2" textLength="17.9" lengthAdjust="spacingAndGlyphs">0.0</text><text x="64.4" y="402.38" font-size="12.4" stroke="#000" stroke-width="0.2" textLength="23.0" lengthAdjust="spacingAndGlyphs">-0.5</text><text x="64.4" y="443.97" font-size="12.4" stroke="#000" stroke-width="0.2" textLength="23.0" lengthAdjust="spacingAndGlyphs">-1.0</text><text x="64.4" y="485.55" font-size="12.4" stroke="#000" stroke-width="0.2" textLength="23.0" lengthAdjust="spacingAndGlyphs">-1.5</text><text x="64.4" y="527.13" font-size="12.4" stroke="#000" stroke-width="0.2" textLength="23.0" lengthAdjust="spacingAndGlyphs">-2.0</text><text x="64.4" y="568.72" font-size="12.4" stroke="#000" stroke-width="0.2" textLength="23.0" lengthAdjust="spacingAndGlyphs">-2.5</text><text x="64.4" y="610.3" font-size="12.4" stroke="#000" stroke-width="0.2" textLength="23.0" lengthAdjust="spacingAndGlyphs">-3.0</text><text transform="translate(105,643.9) rotate(-90)" font-size="12.8" stroke="#000" stroke-width="0.2" textLength="28.7" lengthAdjust="spacingAndGlyphs">1952</text><text transform="translate(129.37,643.9) rotate(-90)" font-size="12.8" stroke="#000" stroke-width="0.2" textLength="28.7" lengthAdjust="spacingAndGlyphs">1954</text><text transform="translate(153.74,643.9) rotate(-90)" font-size="12.8" stroke="#000" stroke-width="0.2" textLength="28.7" lengthAdjust="spacingAndGlyphs">1956</text><text transform="translate(178.11,643.9) rotate(-90)" font-size="12.8" stroke="#000" stroke-width="0.2" textLength="28.7" lengthAdjust="spacingAndGlyphs">1958</text><text transform="translate(202.48,643.9) rotate(-90)" font-size="12.8" stroke="#000" stroke-width="0.2" textLength="28.7" lengthAdjust="spacingAndGlyphs">1960</text><text transform="translate(226.85,643.9) rotate(-90)" font-size="12.8" stroke="#000" stroke-width="0.2" textLength="28.7" lengthAdjust="spacingAndGlyphs">1962</text><text transform="translate(251.22,643.9) rotate(-90)" font-size="12.8" stroke="#000" stroke-width="0.2" textLength="28.7" lengthAdjust="spacingAndGlyphs">1964</text><text transform="translate(275.59,643.9) rotate(-90)" font-size="12.8" stroke="#000" stroke-width="0.2" textLength="28.7" lengthAdjust="spacingAndGlyphs">1966</text><text transform="translate(299.96,643.9) rotate(-90)" font-size="12.8" stroke="#000" stroke-width="0.2" textLength="28.7" lengthAdjust="spacingAndGlyphs">1968</text><text transform="translate(324.33,643.9) rotate(-90)" font-size="12.8" stroke="#000" stroke-width="0.2" textLength="28.7" lengthAdjust="spacingAndGlyphs">1970</text><text transform="translate(348.7,643.9) rotate(-90)" font-size="12.8" stroke="#000" stroke-width="0.2" textLength="28.7" lengthAdjust="spacingAndGlyphs">1972</text><text transform="translate(373.07,643.9) rotate(-90)" font-size="12.8" stroke="#000" stroke-width="0.2" textLength="28.7" lengthAdjust="spacingAndGlyphs">1974</text><text transform="translate(397.44,643.9) rotate(-90)" font-size="12.8" stroke="#000" stroke-width="0.2" textLength="28.7" lengthAdjust="spacingAndGlyphs">1976</text><text transform="translate(421.81,643.9) rotate(-90)" font-size="12.8" stroke="#000" stroke-width="0.2" textLength="28.7" lengthAdjust="spacingAndGlyphs">1978</text><text transform="translate(446.18,643.9) rotate(-90)" font-size="12.8" stroke="#000" stroke-width="0.2" textLength="28.7" lengthAdjust="spacingAndGlyphs">1980</text><text transform="translate(470.55,643.9) rotate(-90)" font-size="12.8" stroke="#000" stroke-width="0.2" textLength="28.7" lengthAdjust="spacingAndGlyphs">1982</text><text transform="translate(494.92,643.9) rotate(-90)" font-size="12.8" stroke="#000" stroke-width="0.2" textLength="28.7" lengthAdjust="spacingAndGlyphs">1984</text><text transform="translate(519.29,643.9) rotate(-90)" font-size="12.8" stroke="#000" stroke-width="0.2" textLength="28.7" lengthAdjust="spacingAndGlyphs">1986</text><text transform="translate(543.66,643.9) rotate(-90)" font-size="12.8" stroke="#000" stroke-width="0.2" textLength="28.7" lengthAdjust="spacingAndGlyphs">1988</text><text transform="translate(568.04,643.9) rotate(-90)" font-size="12.8" stroke="#000" stroke-width="0.2" textLength="28.7" lengthAdjust="spacingAndGlyphs">1990</text><text transform="translate(592.41,643.9) rotate(-90)" font-size="12.8" stroke="#000" stroke-width="0.2" textLength="28.7" lengthAdjust="spacingAndGlyphs">1992</text><text transform="translate(616.78,643.9) rotate(-90)" font-size="12.8" stroke="#000" stroke-width="0.2" textLength="28.7" lengthAdjust="spacingAndGlyphs">1994</text><text transform="translate(641.15,643.9) rotate(-90)" font-size="12.8" stroke="#000" stroke-width="0.2" textLength="28.7" lengthAdjust="spacingAndGlyphs">1996</text><text transform="translate(665.52,643.9) rotate(-90)" font-size="12.8" stroke="#000" stroke-width="0.2" textLength="28.7" lengthAdjust="spacingAndGlyphs">1998</text><text transform="translate(689.89,643.9) rotate(-90)" font-size="12.8" stroke="#000" stroke-width="0.2" textLength="28.7" lengthAdjust="spacingAndGlyphs">2000</text><text transform="translate(714.26,643.9) rotate(-90)" font-size="12.8" stroke="#000" stroke-width="0.2" textLength="28.7" lengthAdjust="spacingAndGlyphs">2002</text><text transform="translate(738.63,643.9) rotate(-90)" font-size="12.8" stroke="#000" stroke-width="0.2" textLength="28.7" lengthAdjust="spacingAndGlyphs">2004</text><text transform="translate(763,643.9) rotate(-90)" font-size="12.8" stroke="#000" stroke-width="0.2" textLength="28.7" lengthAdjust="spacingAndGlyphs">2006</text><text transform="translate(787.37,643.9) rotate(-90)" font-size="12.8" stroke="#000" stroke-width="0.2" textLength="28.7" lengthAdjust="spacingAndGlyphs">2008</text><text transform="translate(811.74,643.9) rotate(-90)" font-size="12.8" stroke="#000" stroke-width="0.2" textLength="28.7" lengthAdjust="spacingAndGlyphs">2010</text><text transform="translate(836.11,643.9) rotate(-90)" font-size="12.8" stroke="#000" stroke-width="0.2" textLength="28.7" lengthAdjust="spacingAndGlyphs">2012</text><text transform="translate(860.48,643.9) rotate(-90)" font-size="12.8" stroke="#000" stroke-width="0.2" textLength="28.7" lengthAdjust="spacingAndGlyphs">2014</text><text transform="translate(884.85,643.9) rotate(-90)" font-size="12.8" stroke="#000" stroke-width="0.2" textLength="28.7" lengthAdjust="spacingAndGlyphs">2016</text><text transform="translate(909.22,643.9) rotate(-90)" font-size="12.8" stroke="#000" stroke-width="0.2" textLength="28.7" lengthAdjust="spacingAndGlyphs">2018</text><text transform="translate(933.59,643.9) rotate(-90)" font-size="12.8" stroke="#000" stroke-width="0.2" textLength="28.7" lengthAdjust="spacingAndGlyphs">2020</text><text transform="translate(957.96,643.9) rotate(-90)" font-size="12.8" stroke="#000" stroke-width="0.2" textLength="28.7" lengthAdjust="spacingAndGlyphs">2022</text><text transform="translate(982.33,643.9) rotate(-90)" font-size="12.8" stroke="#000" stroke-width="0.2" textLength="28.7" lengthAdjust="spacingAndGlyphs">2024</text><text transform="translate(1006.7,643.9) rotate(-90)" font-size="12.8" stroke="#000" stroke-width="0.2" textLength="28.7" lengthAdjust="spacingAndGlyphs">2026</text><text transform="translate(48.6,386.9) rotate(-90)" font-size="23.4" textLength="43.2" lengthAdjust="spacingAndGlyphs">SPEI</text><text transform="translate(53.9,342.6) rotate(-90)" font-size="15.6" textLength="16.6" lengthAdjust="spacingAndGlyphs">12</text><text x="162.4" y="43.7" font-size="22.0" font-weight="bold" stroke="#000" stroke-width="0.44" textLength="135.6" lengthAdjust="spacingAndGlyphs">Standardized</text><text x="306.6" y="43.7" font-size="22.0" font-weight="bold" stroke="#000" stroke-width="0.40" textLength="134.4" lengthAdjust="spacingAndGlyphs">Precipitation</text><text x="447.9" y="43.7" font-size="22.0" font-weight="bold" stroke="#000" stroke-width="0.43" textLength="197.6" lengthAdjust="spacingAndGlyphs">Evapotranspiration</text><text x="653.8" y="43.7" font-size="22.0" font-weight="bold" stroke="#000" stroke-width="0.43" textLength="56.6" lengthAdjust="spacingAndGlyphs">Index</text><text x="718.7" y="43.7" font-size="22.0" font-weight="bold" stroke="#000" stroke-width="0.67" textLength="21.5" lengthAdjust="spacingAndGlyphs">12</text><text x="749.6" y="43.7" font-size="22.0" font-weight="bold" stroke="#000" stroke-width="0.40" textLength="80.4" lengthAdjust="spacingAndGlyphs">months</text><text x="836.2" y="43.7" font-size="22.0" font-weight="bold" stroke="#000" stroke-width="0.62" textLength="51.6" lengthAdjust="spacingAndGlyphs">(SPEI</text><text x="888.6" y="48.9" font-size="15.6" font-weight="bold" stroke="#000" stroke-width="0.40" textLength="17.6" lengthAdjust="spacingAndGlyphs">12</text><text x="906.8" y="43.7" font-size="22.0" font-weight="bold" stroke="#000" stroke-width="0.59" textLength="6.7" lengthAdjust="spacingAndGlyphs">)</text><text x="444.7" y="74.3" font-size="22.0" font-weight="bold" stroke="#000" stroke-width="0.68" textLength="52.4" lengthAdjust="spacingAndGlyphs">ITALY</text><text x="505.6" y="74.3" font-size="22.0" font-weight="bold" stroke="#000" stroke-width="0.40" textLength="125.9" lengthAdjust="spacingAndGlyphs">[1952-2025]</text></g>
</svg>
</body></html>
